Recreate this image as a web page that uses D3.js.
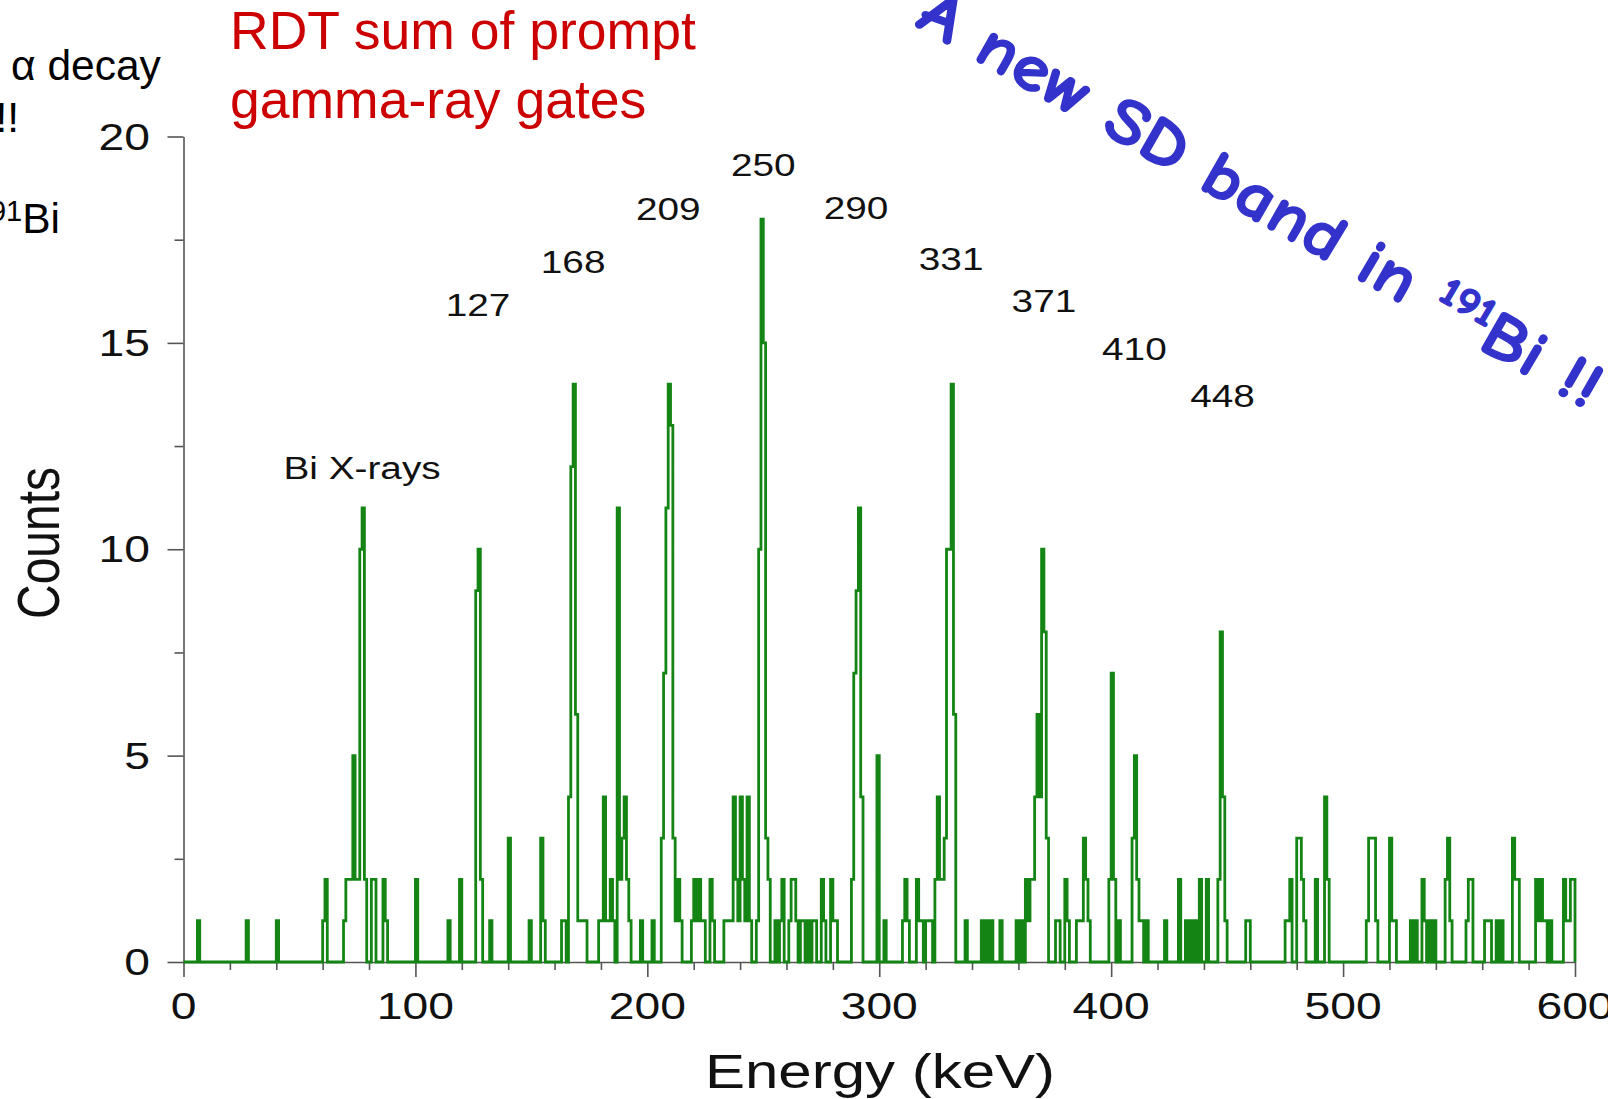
<!DOCTYPE html>
<html>
<head>
<meta charset="utf-8">
<script src="https://cdn.jsdelivr.net/npm/d3@7"></script>
<style>
  html, body { margin: 0; padding: 0; background: #fff; overflow: hidden; }
  svg { display: block; }
  text { font-family: "Liberation Sans", Arial, Helvetica, sans-serif; }
</style>
</head>
<body>
<svg id="chart" width="1608" height="1099"></svg>
<script>
// Spectrum: non-empty 1 keV bins (bin start in keV) and their counts
const binEnergies = [
  6, 27, 40, 60, 61, 69, 70, 71, 72, 73, 74, 75, 76, 77, 78, 81, 82, 86, 87, 100,
  114, 119, 126, 127, 128, 132, 140, 149, 154, 155, 163, 164, 166, 167, 168, 169, 170, 171, 172, 173,
  179, 180, 181, 182, 183, 184, 185, 187, 188, 189, 190, 191, 192, 197, 202,
  206, 207, 208, 209, 210, 211, 212, 213, 214, 219, 220, 221, 222, 223, 224, 227, 228,
  233, 234, 235, 236, 237, 238, 239, 240, 241, 242, 243, 244, 247, 248, 249, 250, 251, 252,
  255, 257, 258, 261, 262, 263, 264, 266, 267, 269, 271, 272, 275, 276, 279, 280, 281,
  288, 289, 290, 291, 292, 299, 302, 310, 311, 312, 316, 317, 318, 320, 321, 322,
  324, 325, 326, 327, 328, 329, 330, 331, 332, 337, 344, 346, 348, 352, 359, 361,
  363, 364, 365, 366, 367, 368, 369, 370, 371, 372, 376, 377, 380, 381, 385, 386, 387, 388, 389, 390,
  399, 400, 401, 403, 409, 410, 411, 412, 413, 415, 423, 429, 432, 434, 436, 438, 441,
  446, 447, 448, 449, 458, 459, 475, 476, 477, 480, 481, 482, 483, 488, 492, 493,
  510, 511, 512, 513, 514, 520, 521, 522, 529, 531, 534, 535, 537, 539, 544, 545, 546,
  553, 554, 555, 561, 562, 563, 566, 568, 573, 574, 575, 583, 584, 585, 586, 587, 589,
  595, 596, 597, 598, 599
];
const binCounts = [
  1, 1, 1, 1, 2, 1, 2, 2, 2, 5, 2, 2, 10, 11, 2, 2, 2, 2, 1, 2,
  1, 2, 9, 10, 2, 1, 3, 1, 3, 1, 1, 1, 4, 12, 14, 6, 1, 1, 1, 1,
  1, 1, 4, 1, 1, 2, 1, 11, 2, 3, 4, 2, 1, 1, 1,
  3, 7, 11, 14, 13, 3, 1, 2, 1, 1, 2, 1, 2, 1, 1, 2, 1,
  1, 1, 1, 1, 4, 2, 1, 4, 2, 1, 4, 1, 1, 10, 18, 15, 3, 2,
  1, 1, 2, 1, 2, 2, 1, 1, 1, 1, 1, 1, 2, 1, 2, 1, 1,
  2, 7, 9, 11, 4, 5, 1, 1, 2, 1, 2, 1, 1, 1, 1, 1,
  2, 4, 2, 2, 3, 10, 10, 14, 6, 1, 1, 1, 1, 1, 1, 1,
  2, 1, 2, 2, 4, 6, 4, 10, 8, 3, 1, 1, 2, 1, 1, 1, 1, 3, 2, 1,
  2, 7, 2, 1, 3, 5, 2, 1, 1, 1, 1, 2, 1, 1, 1, 2, 2,
  2, 8, 4, 1, 1, 1, 1, 1, 2, 3, 3, 2, 1, 2, 4, 2,
  1, 3, 3, 3, 1, 3, 1, 1, 1, 1, 2, 1, 1, 1, 2, 3, 1,
  1, 2, 2, 1, 1, 1, 1, 1, 3, 2, 2, 2, 1, 2, 1, 1, 1,
  2, 1, 1, 2, 2
];

// Transition energies of the band (keV)
const peakLabels = [127, 168, 209, 250, 290, 331, 371, 410, 448];

// Axis ticks
const xMajorTicks = [0, 100, 200, 300, 400, 500, 600];
const xMinorTicks = [20, 40, 60, 80, 120, 140, 160, 180, 220, 240, 260, 280, 320, 340, 360, 380,
                     420, 440, 460, 480, 520, 540, 560, 580];
const yMajorTicks = [0, 5, 10, 15, 20];
const yMinorTicks = [2.5, 7.5, 12.5, 17.5];

const svg = d3.select("#chart");

const x = d3.scaleLinear().domain([0, 600]).range([183.5, 1575]);
const y = d3.scaleLinear().domain([0, 20]).range([962, 136.5]);

// The plot text is set slightly wide
const WIDE = 1.25;
function wideText(parent, px, py, str, size, anchor, extra) {
  return parent.append("text")
    .attr("transform", `translate(${px},${py}) scale(${WIDE},1)` + (extra || ""))
    .attr("text-anchor", anchor)
    .style("font-size", size + "px")
    .attr("fill", "#111")
    .text(str);
}

// ---- axes ----
const axisColor = "#555";
function styleAxis(g) {
  g.selectAll("path, line").attr("stroke", axisColor).attr("stroke-width", 1.6);
  g.selectAll("text").remove();
}

svg.append("g").attr("transform", `translate(0,${y(0)})`)
  .call(d3.axisBottom(x).tickValues(xMajorTicks).tickSize(15).tickSizeOuter(0).tickFormat(""))
  .call(styleAxis);
svg.append("g").attr("transform", `translate(0,${y(0)})`)
  .call(d3.axisBottom(x).tickValues(xMinorTicks).tickSize(8).tickFormat(""))
  .call(g => g.select(".domain").remove())
  .call(styleAxis);

svg.append("g").attr("transform", `translate(${x(0)},0)`)
  .call(d3.axisLeft(y).tickValues(yMajorTicks).tickSize(16).tickSizeOuter(0).tickFormat(""))
  .call(styleAxis);
svg.append("g").attr("transform", `translate(${x(0)},0)`)
  .call(d3.axisLeft(y).tickValues(yMinorTicks).tickSize(9).tickFormat(""))
  .call(g => g.select(".domain").remove())
  .call(styleAxis);

// tick labels
const labels = svg.append("g");
yMajorTicks.forEach(v => wideText(labels, 150, y(v) + 13, String(v), 37, "end"));
xMajorTicks.forEach(v => wideText(labels, x(v), 1019, String(v), 37, "middle"));

// axis titles
wideText(labels, 880, 1088, "Energy (keV)", 48, "middle");
wideText(labels, 59, 543, "Counts", 48, "middle", " rotate(-90)");

// ---- spectrum as a step outline ----
const counts = new Array(601).fill(0);
binEnergies.forEach((e, i) => { counts[e] = binCounts[i]; });
const steps = counts.map((c, e) => ({ e, c }));

const stepLine = d3.line()
  .x(d => x(d.e))
  .y(d => y(d.c))
  .curve(d3.curveStepAfter);

svg.append("path")
  .datum(steps)
  .attr("d", stepLine)
  .attr("fill", "none")
  .attr("stroke", "#148514")
  .attr("stroke-width", 2.8)
  .attr("stroke-linejoin", "miter");

// ---- peak annotations ----
const labelLevel = [15.65, 16.7, 17.97, 19.04, 18.0, 16.76, 15.75, 14.58, 13.44];
const ann = svg.append("g");
peakLabels.forEach((p, i) => wideText(ann, x(p), y(labelLevel[i]), String(p), 31, "middle"));
wideText(ann, x(77), y(11.7), "Bi X-rays", 31, "middle");

// ---- headline texts ----
const red = svg.append("g").attr("fill", "#cc0000").style("font-size", "53.5px");
red.append("text").attr("x", 230).attr("y", 49).text("RDT sum of prompt");
red.append("text").attr("x", 230).attr("y", 118).text("gamma-ray gates");

const side = svg.append("g").attr("fill", "#000").style("font-size", "42.5px");
side.append("text").attr("x", 11).attr("y", 80).text("\u03b1 decay");
side.append("text").attr("x", 19).attr("y", 132).attr("text-anchor", "end").text("!!");
const bi = side.append("text").attr("x", 60).attr("y", 233).attr("text-anchor", "end");
bi.append("tspan").style("font-size", "29px").attr("dy", -12).text("191");
bi.append("tspan").attr("dy", 12).text("Bi");

const blue = svg.append("text")
  .attr("transform", "translate(914,25) rotate(29.8)")
  .attr("fill", "#3333cc")
  .style("font-family", "\"Comic Sans MS\", \"Comic Neue\", Lato, \"Open Sans\", sans-serif")
  .style("font-weight", "900")
  .style("font-size", "66px")
  .attr("stroke", "#3333cc")
  .attr("stroke-width", 1.4)
  .attr("textLength", 775)
  .attr("lengthAdjust", "spacingAndGlyphs");
blue.append("tspan").text("A new SD band in ");
blue.append("tspan").style("font-size", "40px").attr("dy", -22).text("191");
blue.append("tspan").attr("dy", 22).text("Bi !!");
</script>
</body>
</html>
